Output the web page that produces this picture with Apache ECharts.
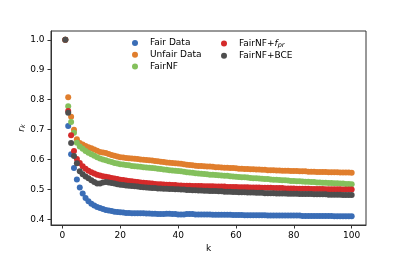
<!DOCTYPE html>
<html>
<head>
<meta charset="utf-8">
<script src="https://cdn.jsdelivr.net/npm/echarts@6/dist/echarts.min.js"></script>
<style>html,body{margin:0;padding:0;background:#fff}#c{width:407px;height:258px}</style>
</head>
<body>
<div id="c"></div>
<script>
var ks = [];
for (var i = 1; i <= 100; i++) ks.push(i);

var seriesNames = ['Fair Data', 'Unfair Data', 'FairNF', 'FairNF+f_pr', 'FairNF+BCE'];
var xTicks = [0, 20, 40, 60, 80, 100];
var yTicks = [0.4, 0.5, 0.6, 0.7, 0.8, 0.9, 1.0];

var fairData = [
1.0,0.712,0.617,0.571,0.533,0.506,0.486,0.471,0.460,0.452,
0.446,0.441,0.437,0.434,0.431,0.429,0.427,0.425,0.424,0.423,
0.422,0.421,0.421,0.420,0.420,0.420,0.420,0.420,0.419,0.419,
0.418,0.418,0.417,0.417,0.417,0.418,0.418,0.417,0.417,0.416,
0.416,0.416,0.417,0.417,0.417,0.416,0.416,0.416,0.416,0.416,
0.416,0.415,0.415,0.415,0.415,0.415,0.415,0.415,0.414,0.414,
0.414,0.414,0.413,0.413,0.413,0.413,0.413,0.413,0.413,0.413,
0.412,0.412,0.412,0.412,0.412,0.412,0.412,0.412,0.412,0.412,
0.412,0.412,0.411,0.411,0.411,0.411,0.411,0.411,0.411,0.411,
0.411,0.411,0.411,0.410,0.410,0.410,0.410,0.410,0.410,0.410];

var unfairData = [
1.0,0.808,0.743,0.699,0.667,0.655,0.650,0.645,0.641,0.637,
0.633,0.629,0.625,0.623,0.621,0.618,0.615,0.612,0.610,0.607,
0.606,0.605,0.604,0.603,0.602,0.601,0.600,0.599,0.598,0.597,
0.596,0.595,0.594,0.592,0.591,0.590,0.589,0.588,0.587,0.586,
0.585,0.584,0.582,0.581,0.580,0.579,0.578,0.578,0.577,0.576,
0.576,0.575,0.574,0.574,0.573,0.572,0.572,0.571,0.571,0.570,
0.569,0.569,0.568,0.568,0.567,0.567,0.566,0.566,0.565,0.565,
0.564,0.564,0.564,0.563,0.563,0.562,0.562,0.562,0.561,0.561,
0.561,0.560,0.560,0.560,0.559,0.559,0.559,0.558,0.558,0.558,
0.558,0.557,0.557,0.557,0.557,0.556,0.556,0.556,0.556,0.555];

var fairNF = [
1.0,0.778,0.725,0.689,0.656,0.643,0.636,0.628,0.622,0.617,
0.612,0.607,0.603,0.600,0.597,0.594,0.591,0.588,0.586,0.584,
0.583,0.581,0.580,0.578,0.577,0.576,0.575,0.574,0.573,0.572,
0.571,0.570,0.569,0.568,0.566,0.565,0.564,0.563,0.562,0.561,
0.560,0.559,0.557,0.556,0.555,0.554,0.553,0.552,0.551,0.550,
0.549,0.549,0.548,0.547,0.546,0.545,0.545,0.544,0.543,0.542,
0.541,0.540,0.540,0.539,0.538,0.537,0.537,0.536,0.535,0.534,
0.534,0.533,0.532,0.532,0.531,0.530,0.530,0.529,0.528,0.528,
0.527,0.527,0.526,0.525,0.525,0.524,0.524,0.523,0.523,0.522,
0.522,0.521,0.521,0.520,0.520,0.519,0.519,0.518,0.518,0.517];

var fairNFpr = [
1.0,0.762,0.681,0.628,0.601,0.588,0.577,0.569,0.562,0.557,
0.553,0.549,0.546,0.544,0.542,0.540,0.538,0.536,0.534,0.532,
0.531,0.529,0.528,0.527,0.525,0.524,0.523,0.522,0.521,0.520,
0.519,0.518,0.517,0.517,0.516,0.515,0.515,0.514,0.514,0.513,
0.513,0.512,0.512,0.512,0.511,0.511,0.511,0.511,0.510,0.510,
0.510,0.510,0.509,0.509,0.509,0.509,0.508,0.508,0.508,0.508,
0.507,0.507,0.507,0.507,0.506,0.506,0.506,0.506,0.505,0.505,
0.505,0.505,0.504,0.504,0.504,0.504,0.503,0.503,0.503,0.503,
0.502,0.502,0.502,0.502,0.502,0.501,0.501,0.501,0.501,0.501,
0.500,0.500,0.500,0.500,0.500,0.500,0.499,0.499,0.499,0.499];

var fairNFbce = [
1.0,0.756,0.655,0.611,0.587,0.560,0.550,0.543,0.537,0.530,
0.524,0.519,0.519,0.523,0.524,0.523,0.521,0.519,0.517,0.515,
0.514,0.513,0.512,0.511,0.510,0.509,0.508,0.507,0.506,0.505,
0.504,0.504,0.503,0.503,0.502,0.502,0.501,0.501,0.500,0.500,
0.499,0.499,0.498,0.498,0.497,0.497,0.496,0.496,0.495,0.495,
0.494,0.494,0.494,0.493,0.493,0.492,0.492,0.492,0.491,0.491,
0.490,0.490,0.490,0.489,0.489,0.489,0.488,0.488,0.488,0.487,
0.487,0.487,0.487,0.486,0.486,0.486,0.486,0.485,0.485,0.485,
0.485,0.484,0.484,0.484,0.484,0.484,0.483,0.483,0.483,0.483,
0.483,0.482,0.482,0.482,0.482,0.482,0.481,0.481,0.481,0.481];

var allValues = [fairData, unfairData, fairNF, fairNFpr, fairNFbce];
var colors = ['#3a6db6', '#e07e2d', '#84c05c', '#d42a2a', '#4e4e4e'];

function pts(vals) { return ks.map(function (k, i) { return [k, vals[i]]; }); }

var FONT = 'DejaVu Sans';
var series = seriesNames.map(function (n, i) {
  return {
    name: n, type: 'scatter', data: pts(allValues[i]),
    symbolSize: 6, itemStyle: { color: colors[i], opacity: 1 },
    emphasis: { disabled: true }, animation: false
  };
});

var legendText = {
  fontFamily: FONT, fontSize: 9, color: '#000', lineHeight: 10,
  rich: {
    sp: { width: 7, lineHeight: 10, fontSize: 9 },
    n: { fontFamily: FONT, fontSize: 9, color: '#000', lineHeight: 10 },
    i: { fontFamily: FONT, fontSize: 9, fontStyle: 'italic', color: '#000', lineHeight: 10 },
    s: { fontFamily: FONT, fontSize: 6.5, fontStyle: 'italic', color: '#000', padding: [4, 0, 0, 0], lineHeight: 10 }
  }
};
function legendFmt(name) {
  if (name === 'FairNF+f_pr') return '{sp| }{n|FairNF+}{i|f}{s|pr}';
  return '{sp| }{n|' + name + '}';
}

var chart = echarts.init(document.getElementById('c'), null, { renderer: 'canvas' });
chart.setOption({
  animation: false,
  backgroundColor: '#fff',
  grid: { left: 51, top: 31, right: 41, bottom: 29, show: true, borderColor: '#333', borderWidth: 1, backgroundColor: 'transparent' },
  legend: [
    { data: seriesNames.slice(0, 3), orient: 'vertical', left: 132, top: 38, icon: 'circle', itemWidth: 6, itemHeight: 6, itemGap: 1.7, textStyle: legendText, formatter: legendFmt, selectedMode: false, padding: 0 },
    { data: seriesNames.slice(3), orient: 'vertical', left: 221, top: 38, icon: 'circle', itemWidth: 6, itemHeight: 6, itemGap: 1.7, textStyle: legendText, formatter: legendFmt, selectedMode: false, padding: 0 }
  ],
  xAxis: {
    type: 'value', min: -3.95, max: 104.95,
    name: 'k', nameLocation: 'middle', nameGap: 19, nameMoveOverlap: false,
    nameTextStyle: { fontFamily: FONT, fontSize: 9, color: '#000' },
    axisLine: { show: true, onZero: false, lineStyle: { color: '#333', width: 1 } },
    axisTick: { show: true, length: 3.5, customValues: xTicks, lineStyle: { color: '#333' } },
    axisLabel: { customValues: xTicks, margin: 6.5, fontFamily: FONT, fontSize: 9, color: '#000' },
    splitLine: { show: false }
  },
  yAxis: {
    type: 'value', min: 0.3805, max: 1.0295,
    name: '{i|r}{s|k}', nameLocation: 'middle', nameGap: 24, nameRotate: 90, nameMoveOverlap: false,
    nameTextStyle: {
      fontFamily: FONT, fontSize: 9, color: '#000',
      rich: {
        i: { fontFamily: FONT, fontSize: 9, fontStyle: 'italic', color: '#000' },
        s: { fontFamily: FONT, fontSize: 6.5, fontStyle: 'italic', color: '#000', padding: [4, 0, 0, 0] }
      }
    },
    axisLine: { show: true, onZero: false, lineStyle: { color: '#333', width: 1 } },
    axisTick: { show: true, length: 3.5, customValues: yTicks, lineStyle: { color: '#333' } },
    axisLabel: { customValues: yTicks, margin: 6.5, fontFamily: FONT, fontSize: 9, color: '#000', formatter: function (v) { return v.toFixed(1); } },
    splitLine: { show: false }
  },
  series: series
});
</script>
</body>
</html>
